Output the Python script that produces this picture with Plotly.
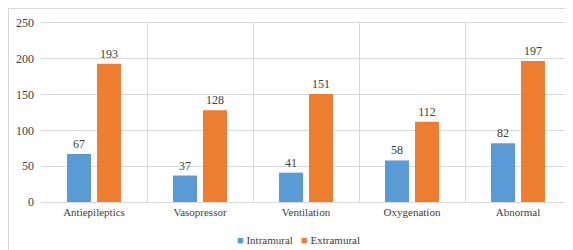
import plotly.graph_objects as go

categories = ["Antiepileptics", "Vasopressor", "Ventilation", "Oxygenation", "Abnormal"]
intramural = [67, 37, 41, 58, 82]
extramural = [193, 128, 151, 112, 197]
y_ticks = [0, 50, 100, 150, 200, 250]
series_names = ["Intramural", "Extramural"]
series_colors = ["#5b9bd5", "#ed7d31"]

FONT = "Liberation Serif"
GRID = "#d9d9d9"
TXT = "#404040"

fig = go.Figure()
for name, vals, col in zip(series_names, [intramural, extramural], series_colors):
    fig.add_trace(go.Bar(name=name, x=categories, y=vals,
                         marker_color=col, marker_line_width=0,
                         text=vals, textposition="outside",
                         textfont=dict(family=FONT, size=12, color=TXT),
                         cliponaxis=False, showlegend=False))

fig.update_layout(
    width=565, height=242,
    margin=dict(l=33, r=2, t=15, b=48, autoexpand=False),
    paper_bgcolor="white", plot_bgcolor="white",
    barmode="group", bargap=0.434, bargroupgap=0.2,
    font=dict(family=FONT, size=11, color=TXT),
    showlegend=False,
    xaxis=dict(showgrid=True, gridcolor=GRID, gridwidth=1, tickson="boundaries",
               ticks="", showline=True, linecolor=GRID, mirror=True,
               automargin=False,
               tickfont=dict(family=FONT, size=11, color=TXT)),
    yaxis=dict(range=[0, 250], tickvals=y_ticks, showgrid=True, gridcolor=GRID,
               zeroline=False, showline=False, ticks="", ticklabelstandoff=6,
               automargin=False,
               tickfont=dict(family=FONT, size=12, color=TXT)),
)

# legend drawn as text
legend_text = "   ".join(
    f"<span style='color:{c}'>■</span> {n}" for n, c in zip(series_names, series_colors)
)
fig.add_annotation(text=legend_text, xref="paper", yref="paper", x=0.485, y=-0.213,
                   xanchor="center", yanchor="middle", showarrow=False,
                   font=dict(family=FONT, size=11, color=TXT))

# outer chart border (left and top edges visible)
fig.add_shape(type="line", xref="paper", yref="paper", x0=-0.0613, x1=1.01,
              y0=1.081, y1=1.081, line=dict(color=GRID, width=1))
fig.add_shape(type="line", xref="paper", yref="paper", x0=-0.0613, x1=-0.0613,
              y0=1.081, y1=-0.3, line=dict(color=GRID, width=1))

fig.write_html("out.html")
